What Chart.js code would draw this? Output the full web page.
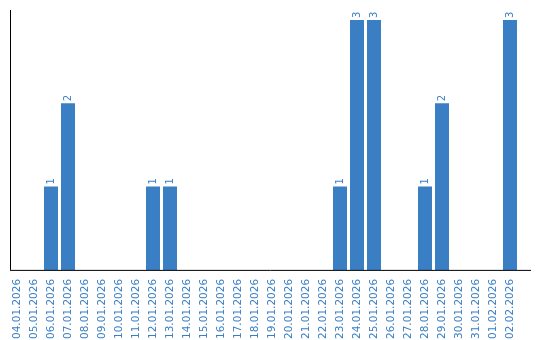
<!DOCTYPE html>
<html>
<head>
<meta charset="utf-8">
<script src="https://cdn.jsdelivr.net/npm/chart.js@4"></script>
<style>
  html, body { margin: 0; padding: 0; background: #fff; }
  #wrap { width: 540px; height: 340px; }
</style>
</head>
<body>
<div id="wrap"><canvas id="chart"></canvas></div>
<script>
const days = [
  "04.01.2026", "05.01.2026", "06.01.2026", "07.01.2026", "08.01.2026",
  "09.01.2026", "10.01.2026", "11.01.2026", "12.01.2026", "13.01.2026",
  "14.01.2026", "15.01.2026", "16.01.2026", "17.01.2026", "18.01.2026",
  "19.01.2026", "20.01.2026", "21.01.2026", "22.01.2026", "23.01.2026",
  "24.01.2026", "25.01.2026", "26.01.2026", "27.01.2026", "28.01.2026",
  "29.01.2026", "30.01.2026", "31.01.2026", "01.02.2026", "02.02.2026"
];
const counts = [
  0, 0, 1, 2, 0,
  0, 0, 0, 1, 1,
  0, 0, 0, 0, 0,
  0, 0, 0, 0, 1,
  3, 3, 0, 0, 1,
  2, 0, 0, 0, 3
];

const blue = "#3a7fc4";

// axis lines, drawn a bit past the bar area like the original
const axisLines = {
  id: "axisLines",
  afterDraw(chart) {
    const { ctx, chartArea } = chart;
    ctx.save();
    ctx.strokeStyle = "#000";
    ctx.lineWidth = 1;
    ctx.beginPath();
    ctx.moveTo(10.5, chartArea.top);
    ctx.lineTo(10.5, chartArea.bottom);
    ctx.moveTo(10, chartArea.bottom + 0.5);
    ctx.lineTo(531, chartArea.bottom + 0.5);
    ctx.stroke();
    ctx.restore();
  }
};

// value labels above the bars, rotated
const valueLabels = {
  id: "valueLabels",
  afterDatasetsDraw(chart) {
    const { ctx } = chart;
    const meta = chart.getDatasetMeta(0);
    ctx.save();
    ctx.fillStyle = blue;
    ctx.font = "10px 'DejaVu Sans'";
    ctx.textAlign = "left";
    ctx.textBaseline = "middle";
    meta.data.forEach((bar, i) => {
      if (!counts[i]) return;
      ctx.save();
      ctx.translate(bar.x, bar.y - 2);
      ctx.rotate(-Math.PI / 2);
      ctx.fillText(String(counts[i]), 0, 0);
      ctx.restore();
    });
    ctx.restore();
  }
};

new Chart(document.getElementById("chart"), {
  type: "bar",
  data: {
    labels: days,
    datasets: [{
      data: counts,
      backgroundColor: blue,
      barPercentage: 14 / 17,
      categoryPercentage: 1
    }]
  },
  options: {
    responsive: true,
    maintainAspectRatio: false,
    animation: false,
    layout: { padding: { left: 8.5, right: 21.5, top: 10, bottom: 0 } },
    plugins: {
      legend: { display: false },
      tooltip: { enabled: false }
    },
    scales: {
      x: {
        grid: { display: false },
        border: { display: false },
        ticks: {
          color: blue,
          font: { family: "DejaVu Sans", size: 10.5 },
          minRotation: 90,
          maxRotation: 90,
          autoSkip: false,
          padding: 1
        }
      },
      y: {
        display: false,
        min: 0,
        max: 3.12
      }
    }
  },
  plugins: [axisLines, valueLabels]
});
</script>
</body>
</html>
